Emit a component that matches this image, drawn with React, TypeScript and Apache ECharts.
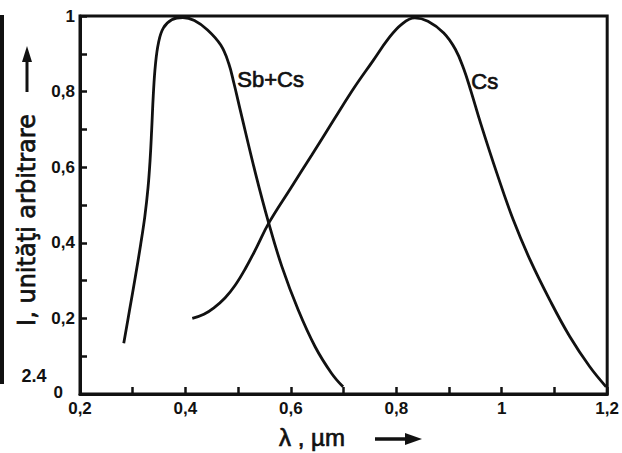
import React, { useEffect, useRef } from "react";
import * as echarts from "echarts";

const xTicks = [0.2, 0.4, 0.6, 0.8, 1.0, 1.2];
const yTicks = [0, 0.2, 0.4, 0.6, 0.8, 1.0];

const sbcsX = [0.283, 0.294, 0.305, 0.315, 0.323, 0.329, 0.333, 0.336, 0.339, 0.343, 0.349, 0.358, 0.374, 0.395, 0.417, 0.442, 0.467, 0.482, 0.492, 0.504, 0.533, 0.558, 0.583, 0.614, 0.646, 0.677, 0.699];
const sbcsY = [0.134, 0.222, 0.310, 0.395, 0.470, 0.545, 0.620, 0.700, 0.790, 0.870, 0.930, 0.968, 0.990, 0.996, 0.988, 0.963, 0.923, 0.875, 0.822, 0.751, 0.583, 0.452, 0.337, 0.222, 0.125, 0.055, 0.019];

const csX = [0.413, 0.435, 0.454, 0.475, 0.494, 0.513, 0.535, 0.558, 0.600, 0.640, 0.680, 0.720, 0.755, 0.785, 0.810, 0.835, 0.860, 0.890, 0.912, 0.928, 0.941, 0.960, 0.991, 1.022, 1.054, 1.091, 1.129, 1.167, 1.198];
const csY = [0.200, 0.211, 0.228, 0.254, 0.287, 0.330, 0.388, 0.452, 0.545, 0.633, 0.722, 0.810, 0.880, 0.940, 0.978, 0.995, 0.986, 0.955, 0.912, 0.860, 0.804, 0.716, 0.583, 0.460, 0.354, 0.249, 0.152, 0.072, 0.019];

const seriesNames = ["Sb+Cs", "Cs"];
const yTitle = "I, unităţi arbitrare";
const xTitle = "λ , µm";
const strayLabel = "2.4";

const fmt = (v: number) => {
  const r = Math.round(v * 10) / 10;
  if (r === 1) return "1";
  if (r === 0) return "0";
  return r.toFixed(1).replace(".", ",");
};

export default function App() {
  const ref = useRef<HTMLDivElement>(null);
  useEffect(() => {
    if (!ref.current) return;
    const chart = echarts.init(ref.current, undefined, { renderer: "svg" });
    const font = "Liberation Sans, Arial, sans-serif";
    const ink = "#111";
    const thick = { stroke: ink, lineWidth: 0.7 };
    chart.setOption({
      animation: false,
      backgroundColor: "#fff",
      grid: {
        left: 80,
        right: 11,
        top: 16,
        bottom: 59,
        show: true,
        borderColor: ink,
        borderWidth: 3,
      },
      xAxis: {
        type: "value",
        min: xTicks[0],
        max: xTicks[xTicks.length - 1],
        interval: 0.2,
        axisLine: { lineStyle: { color: ink, width: 3 } },
        axisTick: { inside: true, length: 7, lineStyle: { color: ink, width: 2.5 } },
        minorTick: { show: true, splitNumber: 2, length: 7, lineStyle: { color: ink, width: 2.5 } },
        splitLine: { show: false },
        axisLabel: {
          formatter: (v: number) => fmt(v),
          color: ink,
          fontFamily: font,
          fontWeight: "bold",
          fontSize: 17,
          margin: 6,
        },
      },
      yAxis: {
        type: "value",
        min: yTicks[0],
        max: yTicks[yTicks.length - 1],
        interval: 0.2,
        axisLine: { lineStyle: { color: ink, width: 3 } },
        axisTick: { inside: true, length: 7, lineStyle: { color: ink, width: 2.5 } },
        minorTick: { show: true, splitNumber: 2, length: 7, lineStyle: { color: ink, width: 2.5 } },
        splitLine: { show: false },
        axisLabel: {
          formatter: (v: number) => (v === 0 ? "{z|0}" : fmt(v)),
          color: ink,
          fontFamily: font,
          fontWeight: "bold",
          fontSize: 17,
          margin: 5,
          rich: {
            z: { fontFamily: font, fontWeight: "bold", fontSize: 17, color: ink, padding: [0, 12, 4, 0] },
          },
        },
      },
      series: [
        {
          name: seriesNames[0],
          type: "line",
          smooth: 0.4,
          showSymbol: false,
          lineStyle: { color: ink, width: 2.8 },
          data: sbcsX.map((x, i) => [x, sbcsY[i]]),
        },
        {
          name: seriesNames[1],
          type: "line",
          smooth: 0.4,
          showSymbol: false,
          lineStyle: { color: ink, width: 2.8 },
          data: csX.map((x, i) => [x, csY[i]]),
        },
      ],
      graphic: [
        {
          type: "text",
          left: 237,
          top: 68,
          style: { text: seriesNames[0], fontFamily: font, fontSize: 22, fill: ink, ...thick },
        },
        {
          type: "text",
          left: 471,
          top: 70,
          style: { text: seriesNames[1], fontFamily: font, fontSize: 22, fill: ink, ...thick },
        },
        {
          type: "text",
          x: 27,
          y: 220,
          rotation: Math.PI / 2,
          style: {
            text: yTitle,
            fontFamily: "DejaVu Sans, sans-serif",
            fontSize: 24,
            fill: ink,
            align: "center",
            verticalAlign: "middle",
            ...thick,
          },
        },
        {
          type: "line",
          shape: { x1: 27, y1: 92, x2: 27, y2: 58 },
          style: { stroke: ink, lineWidth: 3 },
        },
        {
          type: "polygon",
          shape: { points: [[27, 46], [22, 62], [32, 62]] },
          style: { fill: ink },
        },
        {
          type: "text",
          x: 312,
          y: 437,
          style: {
            text: xTitle,
            fontFamily: font,
            fontSize: 24,
            fill: ink,
            align: "center",
            verticalAlign: "middle",
            ...thick,
          },
        },
        {
          type: "line",
          shape: { x1: 375, y1: 439, x2: 408, y2: 439 },
          style: { stroke: ink, lineWidth: 3.5 },
        },
        {
          type: "polygon",
          shape: { points: [[422, 439], [405, 433], [405, 445]] },
          style: { fill: ink },
        },
        {
          type: "text",
          x: 34,
          y: 376,
          style: {
            text: strayLabel,
            fontFamily: font,
            fontWeight: "bold",
            fontSize: 18,
            fill: ink,
            align: "center",
            verticalAlign: "middle",
          },
        },
        {
          type: "line",
          shape: { x1: 2, y1: 15, x2: 2, y2: 384 },
          style: { stroke: ink, lineWidth: 4 },
        },
      ],
    });
    return () => chart.dispose();
  }, []);
  return (
    <div
      ref={ref}
      style={{ position: "fixed", left: 0, top: 0, width: 622, height: 453 }}
    />
  );
}
